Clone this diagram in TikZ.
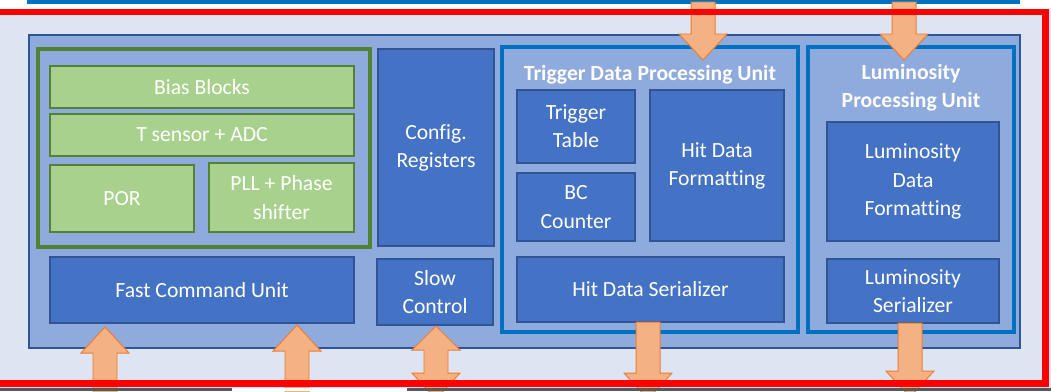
\documentclass[tikz,border=0pt]{standalone}
\usepackage{fontspec}
\setmainfont[Ligatures=NoCommon]{Carlito}

\definecolor{pagebg}{RGB}{221,228,242}
\definecolor{chipfill}{RGB}{143,170,220}
\definecolor{chipedge}{RGB}{47,85,151}
\definecolor{blockfill}{RGB}{68,114,196}
\definecolor{unitedge}{RGB}{0,112,192}
\definecolor{anafill}{RGB}{169,209,142}
\definecolor{anaedge}{RGB}{84,130,53}
\definecolor{orfill}{RGB}{244,177,131}
\definecolor{oredge}{RGB}{237,125,49}

% block arrows: x, y of the tail, y of the tip
\newcommand{\arrowdn}[3]{\draw[orarrow] (#1-12,#2) -- (#1-12,#3-26) -- (#1-24,#3-26) -- (#1,#3) -- (#1+24,#3-26) -- (#1+12,#3-26) -- (#1+12,#2) -- cycle;}
\newcommand{\arrowup}[3]{\draw[orarrow] (#1-12,#2) -- (#1-12,#3+26) -- (#1-24,#3+26) -- (#1,#3) -- (#1+24,#3+26) -- (#1+12,#3+26) -- (#1+12,#2) -- cycle;}

\begin{document}
\begin{tikzpicture}[x=0.025cm,y=-0.025cm,
  font=\fontsize{15.4}{20}\selectfont,
  sz/.style 2 args={minimum width=#1*0.025cm,minimum height=#2*0.025cm},
  blk/.style={draw=chipedge,line width=1.3pt,fill=blockfill,text=white,align=center,inner sep=0pt},
  ana/.style={draw=anaedge,line width=1.3pt,fill=anafill,text=white,align=center,inner sep=0pt},
  unit/.style={draw=unitedge,line width=2.2pt,fill=chipfill,inner sep=0pt},
  orarrow/.style={fill=orfill,draw=oredge,line width=0.7pt,line join=miter}]
\clip (0,0) rectangle (1051,391);
\fill[pagebg] (0,0) rectangle (1051,391);
\fill[white] (0,0) rectangle (1051,9);
\fill[unitedge] (27,0) rectangle (1020,3.5);

% chip
\node[draw=chipedge,line width=1pt,fill=chipfill,inner sep=0pt,sz={991}{313}] (chip) at (524.5,191.5) {};
\node[draw=anaedge,line width=2.2pt,inner sep=0pt,sz={332}{198}] (analog) at (204,148) {};
\node[ana,sz={304}{42}] (bias) at (202,87) {Bias Blocks};
\node[ana,sz={304}{42}] (tsens) at (202,135) {T sensor + ADC};
\node[ana,sz={144}{67}] (por) at (122,198.5) {POR};
\node[ana,sz={145}{69}] (pll) at (281.5,197.5) {PLL + Phase\\shifter};
\node[blk,sz={116}{197}] (cfg) at (436,147.5) {Config.\\Registers};
\node[blk,sz={304}{66}] (fcu) at (202,290) {Fast Command Unit};
\node[blk,sz={116}{66}] (slow) at (435,292) {Slow\\Control};

% trigger path
\node[unit,sz={296}{285}] (tdpu) at (650,189.5) {};
\node[text=white,font=\fontsize{15.4}{20}\selectfont\bfseries] (tdputitle) at (650,75) {Trigger Data Processing Unit};
\node[blk,sz={118}{73}] (ttab) at (576,126.5) {Trigger\\Table};
\node[blk,sz={118}{68}] (bcc) at (576,207) {BC\\Counter};
\node[blk,sz={134}{151}] (hdf) at (717,165.5) {Hit Data\\Formatting};
\node[blk,sz={267}{65}] (hds) at (650.5,289.5) {Hit Data Serializer};

% luminosity path
\node[unit,sz={206}{285}] (lpu) at (911,189.5) {};
\node[text=white,align=center,font=\fontsize{15.4}{20}\selectfont\bfseries] (lputitle) at (911,88) {Luminosity\\Processing Unit};
\node[blk,sz={172}{119}] (ldf) at (913,181.5) {Luminosity\\Data\\Formatting};
\node[blk,sz={172}{64}] (lser) at (913,291) {Luminosity\\Serializer};

% I/O
\arrowdn{703}{2}{60}
\arrowdn{904}{2}{60}
\arrowup{105}{400}{327}
\arrowup{297}{400}{325}
\draw[orarrow] (424,350) -- (412,350) -- (436,326) -- (460,350) -- (448,350) -- (448,373) -- (460,373) -- (436,399) -- (412,373) -- (424,373) -- cycle;
\arrowdn{648}{322}{399}
\arrowdn{910}{323}{397}

\draw[red,line width=4.7pt] (-10,12) -- (1045.5,12) -- (1045.5,383.5) -- (-10,383.5);
\fill[black!65] (0,388) rectangle (1051,391);
\fill[white] (232,388) rectangle (407,391);
\end{tikzpicture}
\end{document}
